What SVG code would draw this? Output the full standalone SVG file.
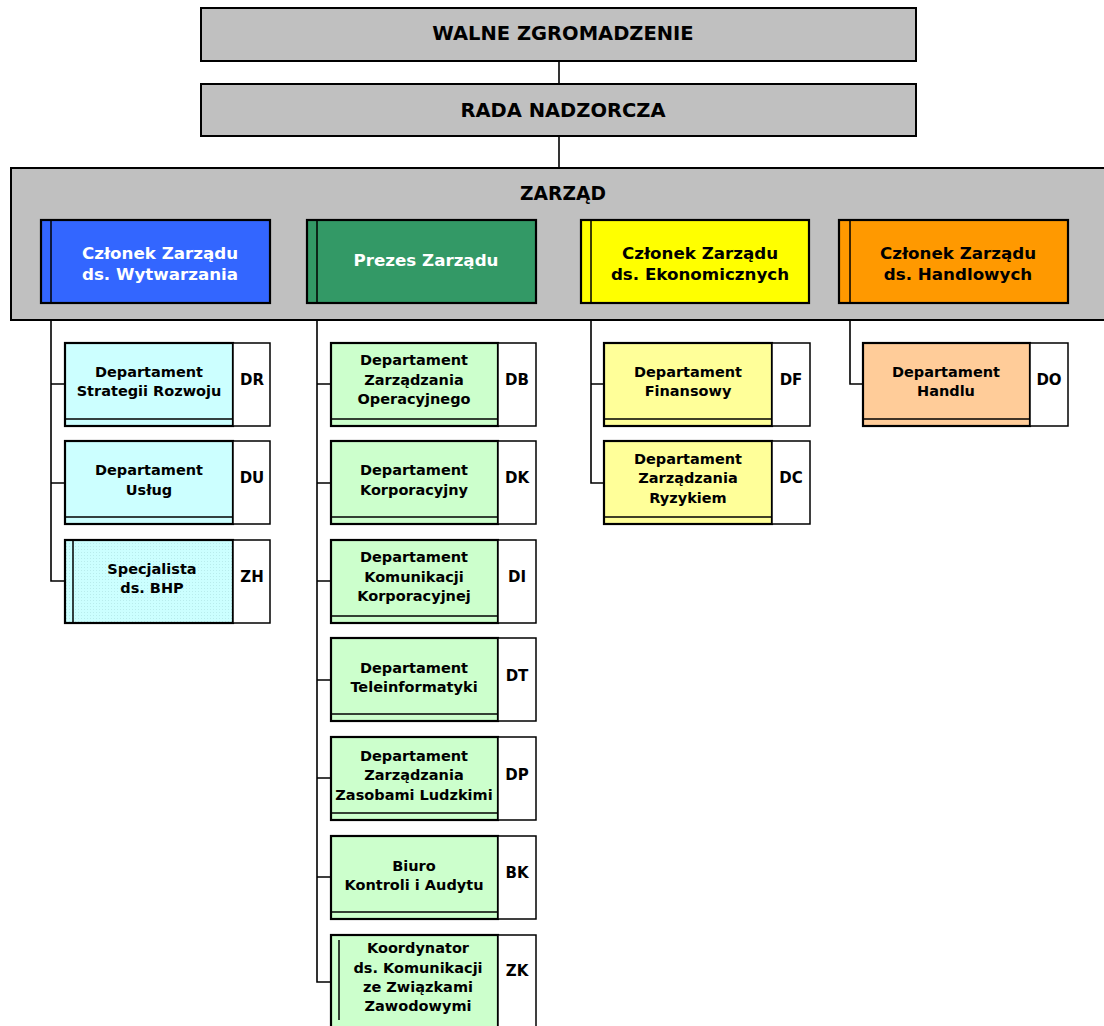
<svg xmlns="http://www.w3.org/2000/svg" width="1104" height="1026" viewBox="0 0 1104 1026">
<style>
text{font-family:"DejaVu Sans",Verdana,sans-serif;font-weight:bold;text-anchor:middle;dominant-baseline:central;fill:#000}
.top{fill:#C0C0C0;stroke:#000;stroke-width:2}
.t1{font-size:19.5px}
.z1{font-size:18.7px}
.mt{font-size:16.7px}
.dt{font-size:14.5px}
.ct{font-size:15px}
.box{stroke:#000;stroke-width:2.2}
.code{fill:#fff;stroke:#000;stroke-width:1.5}
.il{stroke:#000;stroke-width:1.5;fill:none}
.con{stroke:#000;stroke-width:1.6;fill:none}
.cy{fill:#CCFFFF}.gr{fill:#CCFFCC}.ye{fill:#FFFF99}.pe{fill:#FFCC99}
</style>
<defs>
<pattern id="grid" width="3" height="3" patternUnits="userSpaceOnUse">
<rect width="3" height="3" fill="#CCFFFF"/>
<rect width="1" height="1" fill="#B8ECEC"/>
</pattern>
</defs>
<g id="connectors">
<line class="con" x1="559" y1="61" x2="559" y2="84"/>
<line class="con" x1="559" y1="136" x2="559" y2="168"/>
<path class="con" d="M51,304 V581 H65 M51,384 H65 M51,483 H65"/>
<path class="con" d="M317,304 V982 H331 M317,384 H331 M317,483 H331 M317,581 H331 M317,680 H331 M317,778 H331 M317,877 H331"/>
<path class="con" d="M591,304 V483 H604 M591,384 H604"/>
<path class="con" d="M850,304 V384 H863"/>
</g>
<g id="walne"><rect class="top" x="201" y="8" width="715" height="53"/><text class="t1" x="563" y="33">WALNE ZGROMADZENIE</text></g>
<g id="rada"><rect class="top" x="201" y="84" width="715" height="52"/><text class="t1" x="563" y="110">RADA NADZORCZA</text></g>
<g id="zarzad"><rect class="top" x="11" y="168" width="1100" height="152"/><text class="z1" x="563" y="193">ZARZĄD</text></g>
<g id="m-wytw"><rect class="box" x="41" y="220" width="229" height="83" fill="#3366FF"/><line class="il" x1="51" y1="220" x2="51" y2="304"/><text class="mt" x="160" y="253" style="fill:#fff">Członek Zarządu</text><text class="mt" x="160" y="274" style="fill:#fff">ds. Wytwarzania</text></g>
<g id="m-prezes"><rect class="box" x="307" y="220" width="229" height="83" fill="#339966"/><line class="il" x1="317" y1="220" x2="317" y2="304"/><text class="mt" x="426" y="260" style="fill:#fff">Prezes Zarządu</text></g>
<g id="m-ekon"><rect class="box" x="581" y="220" width="228" height="83" fill="#FFFF00"/><line class="il" x1="591" y1="220" x2="591" y2="304"/><text class="mt" x="700" y="253">Członek Zarządu</text><text class="mt" x="700" y="274">ds. Ekonomicznych</text></g>
<g id="m-handl"><rect class="box" x="839" y="220" width="229" height="83" fill="#FF9900"/><line class="il" x1="850" y1="220" x2="850" y2="304"/><text class="mt" x="958" y="253">Członek Zarządu</text><text class="mt" x="958" y="274">ds. Handlowych</text></g>

<g id="DR"><rect class="box cy" x="65" y="343" width="168" height="83"/><line class="il" x1="65" y1="419" x2="233" y2="419"/><rect class="code" x="233" y="343" width="37" height="83"/><text class="dt" x="149" y="372">Departament</text><text class="dt" x="149" y="391">Strategii Rozwoju</text><text class="ct" x="252" y="380">DR</text></g>
<g id="DU"><rect class="box cy" x="65" y="441" width="168" height="83"/><line class="il" x1="65" y1="517" x2="233" y2="517"/><rect class="code" x="233" y="441" width="37" height="83"/><text class="dt" x="149" y="470">Departament</text><text class="dt" x="149" y="490">Usług</text><text class="ct" x="252" y="478">DU</text></g>
<g id="ZH"><rect class="box" x="65" y="540" width="168" height="83" fill="url(#grid)"/><line class="il" x1="73" y1="540" x2="73" y2="623"/><rect class="code" x="233" y="540" width="37" height="83"/><text class="dt" x="152" y="569">Specjalista</text><text class="dt" x="152" y="588">ds. BHP</text><text class="ct" x="252" y="577">ZH</text></g>

<g id="DB"><rect class="box gr" x="331" y="343" width="167" height="83"/><line class="il" x1="331" y1="419" x2="498" y2="419"/><rect class="code" x="498" y="343" width="38" height="83"/><text class="dt" x="414" y="360">Departament</text><text class="dt" x="414" y="380">Zarządzania</text><text class="dt" x="414" y="399">Operacyjnego</text><text class="ct" x="517" y="380">DB</text></g>
<g id="DK"><rect class="box gr" x="331" y="441" width="167" height="83"/><line class="il" x1="331" y1="517" x2="498" y2="517"/><rect class="code" x="498" y="441" width="38" height="83"/><text class="dt" x="414" y="470">Departament</text><text class="dt" x="414" y="490">Korporacyjny</text><text class="ct" x="517" y="478">DK</text></g>
<g id="DI"><rect class="box gr" x="331" y="540" width="167" height="83"/><line class="il" x1="331" y1="616" x2="498" y2="616"/><rect class="code" x="498" y="540" width="38" height="83"/><text class="dt" x="414" y="557">Departament</text><text class="dt" x="414" y="577">Komunikacji</text><text class="dt" x="414" y="596">Korporacyjnej</text><text class="ct" x="517" y="577">DI</text></g>
<g id="DT"><rect class="box gr" x="331" y="638" width="167" height="83"/><line class="il" x1="331" y1="714" x2="498" y2="714"/><rect class="code" x="498" y="638" width="38" height="83"/><text class="dt" x="414" y="668">Departament</text><text class="dt" x="414" y="687">Teleinformatyki</text><text class="ct" x="517" y="676">DT</text></g>
<g id="DP"><rect class="box gr" x="331" y="737" width="167" height="83"/><line class="il" x1="331" y1="813" x2="498" y2="813"/><rect class="code" x="498" y="737" width="38" height="83"/><text class="dt" x="414" y="756">Departament</text><text class="dt" x="414" y="775">Zarządzania</text><text class="dt" x="414" y="795">Zasobami Ludzkimi</text><text class="ct" x="517" y="775">DP</text></g>
<g id="BK"><rect class="box gr" x="331" y="836" width="167" height="83"/><line class="il" x1="331" y1="912" x2="498" y2="912"/><rect class="code" x="498" y="836" width="38" height="83"/><text class="dt" x="414" y="866">Biuro</text><text class="dt" x="414" y="885">Kontroli i Audytu</text><text class="ct" x="517" y="873">BK</text></g>
<g id="ZK"><rect class="box gr" x="331" y="935" width="167" height="100"/><line class="il" x1="339" y1="940" x2="339" y2="1020"/><rect class="code" x="498" y="935" width="38" height="100"/><text class="dt" x="418" y="948">Koordynator</text><text class="dt" x="418" y="968">ds. Komunikacji</text><text class="dt" x="418" y="987">ze Związkami</text><text class="dt" x="418" y="1006">Zawodowymi</text><text class="ct" x="517" y="971">ZK</text></g>

<g id="DF"><rect class="box ye" x="604" y="343" width="168" height="83"/><line class="il" x1="604" y1="419" x2="772" y2="419"/><rect class="code" x="772" y="343" width="38" height="83"/><text class="dt" x="688" y="372">Departament</text><text class="dt" x="688" y="391">Finansowy</text><text class="ct" x="791" y="380">DF</text></g>
<g id="DC"><rect class="box ye" x="604" y="441" width="168" height="83"/><line class="il" x1="604" y1="517" x2="772" y2="517"/><rect class="code" x="772" y="441" width="38" height="83"/><text class="dt" x="688" y="459">Departament</text><text class="dt" x="688" y="478">Zarządzania</text><text class="dt" x="688" y="498">Ryzykiem</text><text class="ct" x="791" y="478">DC</text></g>
<g id="DO"><rect class="box pe" x="863" y="343" width="167" height="83"/><line class="il" x1="863" y1="419" x2="1030" y2="419"/><rect class="code" x="1030" y="343" width="38" height="83"/><text class="dt" x="946" y="372">Departament</text><text class="dt" x="946" y="391">Handlu</text><text class="ct" x="1049" y="380">DO</text></g>
</svg>
